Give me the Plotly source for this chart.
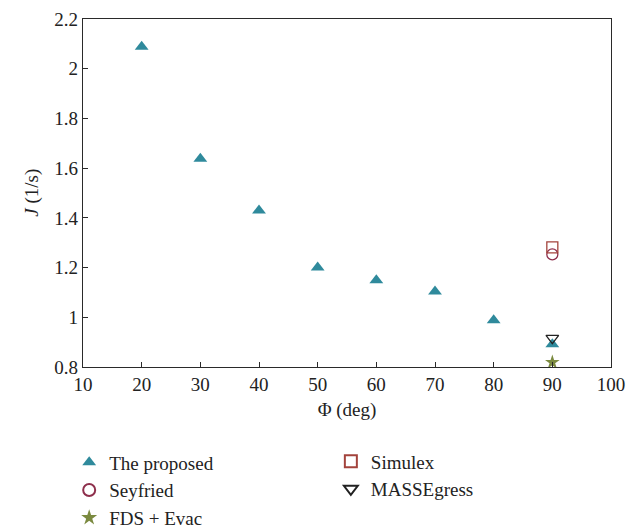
import plotly.graph_objects as go

phi = [20, 30, 40, 50, 60, 70, 80, 90]
proposed = [2.088, 1.638, 1.43, 1.20, 1.149, 1.104, 0.988, 0.892]
phi_ref = [90]
seyfried = [1.253]
fds_evac = [0.819]
simulex = [1.281]
massegress = [0.916]

font = "Liberation Serif, DejaVu Serif, Times New Roman, serif"
fig = go.Figure()
fig.add_trace(go.Scatter(x=phi, y=proposed, mode="markers", name="The proposed",
                         marker=dict(symbol="triangle-up", size=12, color="#2f8a9c"), legend="legend"))
fig.add_trace(go.Scatter(x=phi_ref, y=seyfried, mode="markers", name="Seyfried",
                         marker=dict(symbol="circle-open", size=11, color="#8e2f4c", line=dict(width=1.3)), legend="legend"))
fig.add_trace(go.Scatter(x=phi_ref, y=fds_evac, mode="markers", name="FDS + Evac",
                         marker=dict(symbol="star", size=11, color="#7b8a40"), legend="legend"))
fig.add_trace(go.Scatter(x=phi_ref, y=simulex, mode="markers", name="Simulex",
                         marker=dict(symbol="square-open", size=11, color="#a3433c", line=dict(width=1.3)), legend="legend2"))
fig.add_trace(go.Scatter(x=phi_ref, y=massegress, mode="markers", name="MASSEgress",
                         marker=dict(symbol="triangle-down-open", size=11, color="#222222", line=dict(width=1.3)), legend="legend2"))

axis_common = dict(showline=True, linecolor="#2a2a2a", linewidth=1.3, mirror=True,
                   ticks="inside", ticklen=5, tickcolor="#2a2a2a", showgrid=False, zeroline=False,
                   tickfont=dict(family=font, size=19, color="#222222"))
fig.update_layout(
    width=629, height=531,
    margin=dict(l=83, r=18, t=19, b=164, autoexpand=False),
    paper_bgcolor="white", plot_bgcolor="white",
    font=dict(family=font, size=19, color="#222222"),
    xaxis=dict(range=[10, 100], dtick=10, title=dict(text="Φ (deg)", font=dict(size=19), standoff=8), **axis_common),
    yaxis=dict(range=[0.8, 2.2], dtick=0.2, title=dict(text=""), **axis_common),
    annotations=[dict(text="<i>J</i> (1/s)", xref="paper", yref="paper", x=-0.097, y=0.5,
                      xanchor="center", yanchor="middle", textangle=-90, showarrow=False,
                      font=dict(family=font, size=19, color="#222222"))],
    legend=dict(xref="container", yref="container", x=0.11, y=0.165, xanchor="left", yanchor="top",
                bgcolor="rgba(0,0,0,0)", font=dict(family=font, size=19), itemsizing="constant"),
    legend2=dict(xref="container", yref="container", x=0.526, y=0.167, xanchor="left", yanchor="top",
                 bgcolor="rgba(0,0,0,0)", font=dict(family=font, size=19), itemsizing="constant"),
)
fig.write_html("out.html")
